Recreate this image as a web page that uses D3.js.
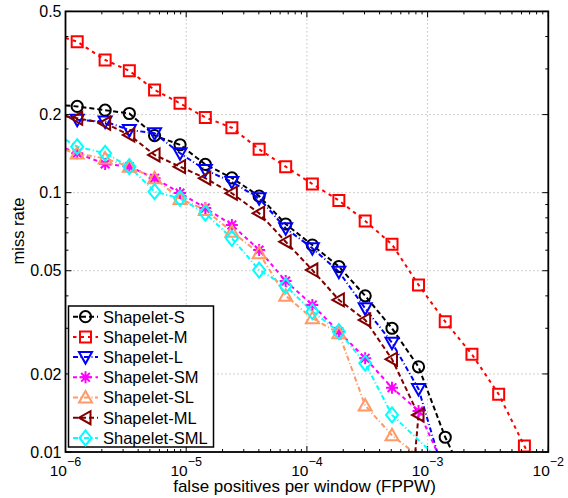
<!DOCTYPE html>
<html>
<head>
<meta charset="utf-8">
<script src="https://cdn.jsdelivr.net/npm/d3@7"></script>
<style>
  body { margin: 0; background: #fff; }
  svg text { font-family: "Liberation Sans", Arial, Helvetica, sans-serif; fill: #000; }
</style>
</head>
<body>
<div id="chart"></div>
<script>
// shared false-positive-per-window positions of the markers
const fppw = [1.25e-6, 2.13e-6, 3.38e-6, 5.47e-6, 8.89e-6, 1.44e-5, 2.39e-5, 4.02e-5, 6.67e-5,
  1.11e-4, 1.84e-4, 3.04e-4, 5.07e-4, 8.41e-4, 1.40e-3, 2.33e-3, 3.88e-3, 6.34e-3];

const seriesNames = ["Shapelet-S", "Shapelet-M", "Shapelet-L", "Shapelet-SM", "Shapelet-SL", "Shapelet-ML", "Shapelet-SML"];

// miss rate at each marker
const missS = [0.215, 0.208, 0.202, 0.166, 0.153, 0.1285, 0.114, 0.097, 0.0757, 0.0628, 0.0519, 0.040, 0.030, 0.0213, 0.0114];
const missM = [0.382, 0.325, 0.295, 0.249, 0.221, 0.195, 0.178, 0.147, 0.126, 0.108, 0.0933, 0.0778, 0.0632, 0.0441, 0.0318, 0.0238, 0.0167, 0.01055];
const missL = [0.191, 0.188, 0.1745, 0.1695, 0.142, 0.1224, 0.110, 0.0951, 0.0729, 0.0611, 0.0496, 0.0358, 0.0264, 0.0175];
const missSM = [0.142, 0.129, 0.126, 0.1137, 0.0997, 0.0873, 0.0751, 0.0601, 0.0456, 0.0369, 0.0291, 0.0230, 0.0177, 0.0144];
const missSL = [0.1416, 0.1355, 0.126, 0.1137, 0.0946, 0.0858, 0.0707, 0.0584, 0.040, 0.0328, 0.0287, 0.0151, 0.0116];
const missML = [0.1936, 0.1852, 0.1669, 0.1398, 0.126, 0.1137, 0.0995, 0.0833, 0.0647, 0.0503, 0.0386, 0.0323, 0.0228, 0.0139];
const missSML = [0.1504, 0.1419, 0.126, 0.1009, 0.0951, 0.0833, 0.0667, 0.0503, 0.0437, 0.0348, 0.0291, 0.022, 0.0139];

// where each curve enters at the left edge and leaves at the bottom edge
const startMiss = [0.217, 0.395, 0.198, 0.148, 0.146, 0.197, 0.160];
const endFppw = [1.6e-3, 6.7e-3, 1.2e-3, 1.2e-3, 7.6e-4, 7.9e-4, 1.07e-3];

const xTickValues = [1e-6, 1e-5, 1e-4, 1e-3, 1e-2];
const xTickExp = ["\u22126", "\u22125", "\u22124", "\u22123", "\u22122"];
const yTickValues = [0.01, 0.02, 0.05, 0.1, 0.2, 0.5];
const yTickLabels = ["0.01", "0.02", "0.05", "0.1", "0.2", "0.5"];

const w = 568, h = 498;
const pLeft = 65.5, pRight = 548.3, pTop = 11.4, pBottom = 452;

const x = d3.scaleLog().domain([1e-6, 1e-2]).range([pLeft, pRight]);
const y = d3.scaleLog().domain([0.01, 0.5]).range([pBottom, pTop]);

const svg = d3.select("#chart").append("svg").attr("width", w).attr("height", h);

svg.append("defs").append("clipPath").attr("id", "plot")
  .append("rect").attr("x", pLeft).attr("y", pTop).attr("width", pRight - pLeft).attr("height", pBottom - pTop);

// grid
svg.append("g").selectAll("line").data(xTickValues.slice(1, -1)).join("line")
  .attr("x1", d => x(d)).attr("x2", d => x(d)).attr("y1", pTop).attr("y2", pBottom)
  .attr("stroke", "#a0a0a0").attr("stroke-width", 1).attr("stroke-dasharray", "1,3");
svg.append("g").selectAll("line").data(yTickValues.slice(1, -1)).join("line")
  .attr("y1", d => y(d)).attr("y2", d => y(d)).attr("x1", pLeft).attr("x2", pRight)
  .attr("stroke", "#a0a0a0").attr("stroke-width", 1).attr("stroke-dasharray", "1,3");

// ticks
const xMinor = [];
for (let e = -6; e < -2; e++) for (let k = 2; k <= 9; k++) xMinor.push(k * Math.pow(10, e));
const yMinor = [0.03, 0.04, 0.06, 0.07, 0.08, 0.09, 0.3, 0.4];

const ticks = svg.append("g").attr("stroke", "#000").attr("stroke-width", 1);
[[xMinor, 3], [xTickValues, 6]].forEach(([vals, len]) => {
  vals.forEach(v => {
    ticks.append("line").attr("x1", x(v)).attr("x2", x(v)).attr("y1", pBottom).attr("y2", pBottom - len);
    ticks.append("line").attr("x1", x(v)).attr("x2", x(v)).attr("y1", pTop).attr("y2", pTop + len);
  });
});
[[yMinor, 3], [yTickValues, 6]].forEach(([vals, len]) => {
  vals.forEach(v => {
    ticks.append("line").attr("y1", y(v)).attr("y2", y(v)).attr("x1", pLeft).attr("x2", pLeft + len);
    ticks.append("line").attr("y1", y(v)).attr("y2", y(v)).attr("x1", pRight).attr("x2", pRight - len);
  });
});

// tick labels
svg.append("g").selectAll("text").data(yTickValues).join("text")
  .attr("x", pLeft - 4).attr("y", d => y(d)).attr("dy", "0.36em")
  .attr("text-anchor", "end").attr("font-size", 16)
  .text((d, i) => yTickLabels[i]);

const xl = svg.append("g").selectAll("text").data(xTickValues).join("text")
  .attr("x", d => x(d)).attr("y", 475.5).attr("text-anchor", "middle").attr("font-size", 15.5);
xl.append("tspan").text("10");
xl.append("tspan").attr("dy", -9.5).attr("font-size", 12.5).text((d, i) => xTickExp[i]);

svg.append("text").attr("x", 304.5).attr("y", 492).attr("text-anchor", "middle")
  .attr("font-size", 17).text("false positives per window (FPPW)");
svg.append("text").attr("transform", "translate(24,231) rotate(-90)")
  .attr("text-anchor", "middle").attr("font-size", 16.5).text("miss rate");

// series
const series = [
  { name: seriesNames[0], miss: missS, color: "#000000", dash: "5,3", marker: "circle" },
  { name: seriesNames[1], miss: missM, color: "#ff0000", dash: "3.5,4", marker: "square" },
  { name: seriesNames[2], miss: missL, color: "#0000ff", dash: "5,2.5,1,2.5", marker: "down" },
  { name: seriesNames[3], miss: missSM, color: "#ff00ff", dash: "4,3.5", marker: "star" },
  { name: seriesNames[4], miss: missSL, color: "#ff9966", dash: "5,2.5,1,2.5", marker: "up" },
  { name: seriesNames[5], miss: missML, color: "#800000", dash: "5,3", marker: "left" },
  { name: seriesNames[6], miss: missSML, color: "#00ffff", dash: "5,2.5,1,2.5", marker: "diamond" }
];

const markerPath = {
  circle: "M5.6,0A5.6,5.6,0,1,1,-5.6,0A5.6,5.6,0,1,1,5.6,0Z",
  square: "M-5.5,-5.5H5.5V5.5H-5.5Z",
  down: "M-6.5,-5H6.5L0,6.5Z",
  up: "M-6.5,5H6.5L0,-6.5Z",
  left: "M5,-6.5V6.5L-6.5,0Z",
  diamond: "M0,-7.5L6,0L0,7.5L-6,0Z",
  star: "M-6,0H6M0,-6V6M-4.3,-4.3L4.3,4.3M-4.3,4.3L4.3,-4.3"
};

const line = d3.line().x(d => x(d[0])).y(d => y(d[1]));
const plot = svg.append("g").attr("clip-path", "url(#plot)");

series.forEach((s, i) => {
  const pts = s.miss.map((m, j) => [fppw[j], m]);
  const full = [[1e-6, startMiss[i]], ...pts, [endFppw[i], 0.01]];
  plot.append("path").attr("d", line(full)).attr("fill", "none")
    .attr("stroke", s.color).attr("stroke-width", 2).attr("stroke-dasharray", s.dash);
  svg.append("g").selectAll("path").data(pts).join("path")
    .attr("transform", d => `translate(${x(d[0])},${y(d[1])})`)
    .attr("d", markerPath[s.marker]).attr("fill", "none")
    .attr("stroke", s.color).attr("stroke-width", 2);
});

// legend
const lg = svg.append("g");
lg.append("rect").attr("x", 68.5).attr("y", 306).attr("width", 145).attr("height", 141)
  .attr("fill", "#fff").attr("stroke", "#000").attr("stroke-width", 1.5);
series.forEach((s, i) => {
  const cy = 316.7 + i * 20.2;
  lg.append("line").attr("x1", 73).attr("x2", 98).attr("y1", cy).attr("y2", cy)
    .attr("stroke", s.color).attr("stroke-width", 2).attr("stroke-dasharray", s.dash);
  lg.append("path").attr("transform", `translate(85.5,${cy})`).attr("d", markerPath[s.marker])
    .attr("fill", "none").attr("stroke", s.color).attr("stroke-width", 2);
  lg.append("text").attr("x", 103).attr("y", cy).attr("dy", "0.36em").attr("font-size", 16.5).text(s.name);
});

// frame
svg.append("rect").attr("x", pLeft).attr("y", pTop).attr("width", pRight - pLeft).attr("height", pBottom - pTop)
  .attr("fill", "none").attr("stroke", "#000").attr("stroke-width", 1.8);
</script>
</body>
</html>
